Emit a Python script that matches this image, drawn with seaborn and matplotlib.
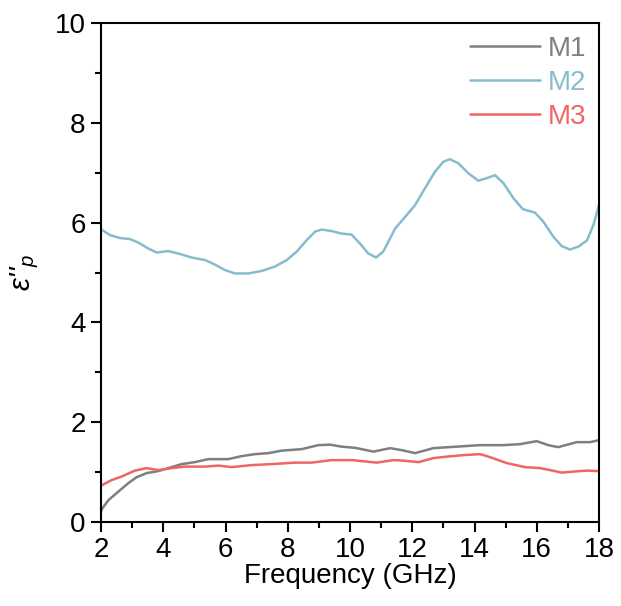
import numpy as np
import pandas as pd
import matplotlib
matplotlib.use("Agg")
import matplotlib.pyplot as plt
import seaborn as sns
from matplotlib.ticker import MultipleLocator

# Polarization loss spectra (epsilon''_p) of the three samples
freq_m1 = [2.0, 2.04, 2.24, 2.56, 2.88, 3.15, 3.47, 3.84, 4.16, 4.59, 5.02, 5.45, 6.09,
           6.52, 6.95, 7.38, 7.81, 8.45, 8.98, 9.36, 9.73, 10.1, 10.22, 10.75, 11.29,
           11.66, 12.09, 12.68, 13.43, 14.18, 14.93, 15.46, 16.0, 16.37, 16.69, 17.28,
           17.71, 18.0]
eps_m1 = [0.21, 0.27, 0.44, 0.61, 0.78, 0.90, 0.98, 1.02, 1.08, 1.16, 1.20, 1.26, 1.26,
          1.32, 1.36, 1.38, 1.43, 1.46, 1.54, 1.55, 1.51, 1.49, 1.48, 1.41, 1.48,
          1.44, 1.38, 1.48, 1.51, 1.54, 1.54, 1.56, 1.62, 1.54, 1.50, 1.60,
          1.60, 1.64]

freq_m2 = [2.0, 2.04, 2.29, 2.61, 2.93, 3.20, 3.52, 3.79, 4.16, 4.54, 4.91, 5.34, 5.66,
           5.98, 6.31, 6.73, 7.16, 7.59, 7.97, 8.29, 8.61, 8.88, 9.09, 9.41, 9.73,
           10.05, 10.32, 10.59, 10.84, 11.07, 11.45, 11.82, 12.09, 12.41, 12.73, 13.0,
           13.21, 13.48, 13.80, 14.12, 14.39, 14.66, 14.93, 15.25, 15.55, 15.94, 16.21,
           16.53, 16.80, 17.07, 17.34, 17.61, 17.82, 18.0]
eps_m2 = [5.88, 5.85, 5.75, 5.69, 5.67, 5.60, 5.48, 5.40, 5.43, 5.37, 5.30, 5.25, 5.16,
          5.05, 4.98, 4.98, 5.03, 5.12, 5.25, 5.42, 5.65, 5.82, 5.86, 5.83, 5.78,
          5.76, 5.58, 5.38, 5.30, 5.42, 5.88, 6.15, 6.35, 6.69, 7.02, 7.22,
          7.27, 7.19, 6.99, 6.84, 6.89, 6.95, 6.79, 6.49, 6.27, 6.20, 6.02,
          5.72, 5.53, 5.46, 5.52, 5.64, 5.95, 6.35]

freq_m3 = [2.0, 2.04, 2.34, 2.66, 3.09, 3.47, 3.84, 4.27, 4.70, 5.34, 5.77, 6.20, 6.84,
           7.48, 8.23, 8.77, 9.41, 10.1, 10.22, 10.86, 11.4, 11.71, 12.2, 12.68, 13.11,
           13.64, 14.18, 14.45, 15.04, 15.62, 16.1, 16.43, 16.8, 17.17, 17.61, 18.0]
eps_m3 = [0.73, 0.74, 0.84, 0.91, 1.03, 1.08, 1.04, 1.08, 1.11, 1.11, 1.13, 1.10, 1.14,
          1.16, 1.19, 1.19, 1.24, 1.24, 1.23, 1.19, 1.24, 1.23, 1.20, 1.28, 1.31,
          1.34, 1.36, 1.31, 1.18, 1.10, 1.08, 1.04, 0.99, 1.01, 1.03, 1.02]

samples = ["M1", "M2", "M3"]
colors = {"M1": "#7f7f7f", "M2": "#86bccd", "M3": "#f06464"}

df = pd.concat([
    pd.DataFrame({"Frequency": freq_m1, "eps": eps_m1, "Sample": "M1"}),
    pd.DataFrame({"Frequency": freq_m2, "eps": eps_m2, "Sample": "M2"}),
    pd.DataFrame({"Frequency": freq_m3, "eps": eps_m3, "Sample": "M3"}),
])

sns.set_style("ticks")
plt.rcParams["font.family"] = ["Liberation Sans", "DejaVu Sans"]
plt.rcParams["mathtext.fontset"] = "custom"
plt.rcParams["mathtext.rm"] = "Liberation Sans"
plt.rcParams["mathtext.it"] = "Liberation Sans:italic"
plt.rcParams["text.color"] = "black"
plt.rcParams["axes.labelcolor"] = "black"
plt.rcParams["xtick.color"] = "black"
plt.rcParams["ytick.color"] = "black"

fig = plt.figure(figsize=(6.21, 6.06), dpi=100)
ax = fig.add_axes([101 / 621, 1 - 522 / 606, 498 / 621, 499 / 606])

sns.lineplot(data=df, x="Frequency", y="eps", hue="Sample", hue_order=samples,
             palette=colors, linewidth=1.8, ax=ax, estimator=None, sort=True)
for line in ax.get_lines():
    line.set_solid_joinstyle("round")

ax.set_xlim(2, 18)
ax.set_ylim(0, 10)
ax.xaxis.set_major_locator(MultipleLocator(2))
ax.xaxis.set_minor_locator(MultipleLocator(1))
ax.yaxis.set_major_locator(MultipleLocator(2))
ax.yaxis.set_minor_locator(MultipleLocator(1))
ax.tick_params(which="major", direction="out", length=7, width=1.5, labelsize=20,
               top=False, right=False, pad=4, colors="black")
ax.tick_params(which="minor", direction="out", length=4, width=1.5, top=False, right=False,
               colors="black")
for s in ax.spines.values():
    s.set_linewidth(1.5)
    s.set_color("black")

ax.set_xlabel("Frequency (GHz)", fontsize=20, labelpad=0, color="black")
ax.set_ylabel(r"$\mathit{\varepsilon}$''$_{\mathit{p}}$", fontsize=21, labelpad=10,
              color="black", fontstyle="italic")

leg = ax.legend(loc="upper right", frameon=False, fontsize=20, handlelength=2.5,
                handletextpad=0.3, labelspacing=0.3, borderaxespad=0.05)
for text, s in zip(leg.get_texts(), samples):
    text.set_color(colors[s])
for h in leg.get_lines():
    h.set_linewidth(1.8)

fig.savefig("out.png", dpi=100)
